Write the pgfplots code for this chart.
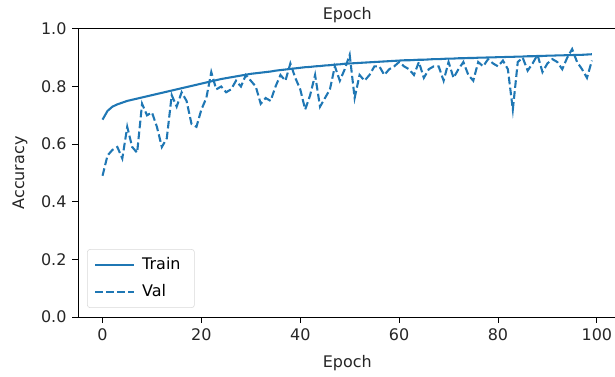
\documentclass[border=0pt]{standalone}
\usepackage{fontspec}
\setmainfont{DejaVu Sans}
\usepackage{pgfplots}
\pgfplotsset{compat=1.18}
\usepackage{pgfplotstable}
\definecolor{mplblue}{HTML}{1F77B4}

\pgfplotstableread{
ep train val
0 0.685 0.49
1 0.715 0.56
2 0.730 0.58
3 0.738 0.59
4 0.744 0.55
5 0.750 0.66
6 0.754 0.59
7 0.758 0.57
8 0.762 0.74
9 0.766 0.70
10 0.770 0.71
11 0.774 0.66
12 0.778 0.59
13 0.782 0.62
14 0.786 0.77
15 0.790 0.73
16 0.794 0.78
17 0.798 0.75
18 0.802 0.67
19 0.806 0.66
20 0.810 0.72
21 0.814 0.76
22 0.818 0.85
23 0.822 0.79
24 0.826 0.80
25 0.829 0.78
26 0.832 0.79
27 0.835 0.82
28 0.838 0.80
29 0.841 0.84
30 0.844 0.82
31 0.846 0.80
32 0.848 0.74
33 0.850 0.76
34 0.852 0.75
35 0.855 0.80
36 0.857 0.84
37 0.859 0.82
38 0.861 0.88
39 0.863 0.83
40 0.865 0.79
41 0.867 0.72
42 0.868 0.77
43 0.870 0.84
44 0.871 0.73
45 0.873 0.76
46 0.874 0.79
47 0.876 0.87
48 0.877 0.82
49 0.879 0.86
50 0.880 0.91
51 0.881 0.76
52 0.882 0.84
53 0.883 0.82
54 0.884 0.84
55 0.885 0.87
56 0.886 0.87
57 0.887 0.84
58 0.888 0.86
59 0.889 0.87
60 0.890 0.885
61 0.891 0.87
62 0.891 0.86
63 0.892 0.84
64 0.893 0.885
65 0.893 0.83
66 0.894 0.86
67 0.895 0.87
68 0.895 0.87
69 0.896 0.82
70 0.897 0.885
71 0.897 0.83
72 0.898 0.86
73 0.898 0.885
74 0.899 0.84
75 0.899 0.82
76 0.900 0.885
77 0.900 0.87
78 0.901 0.895
79 0.901 0.88
80 0.902 0.87
81 0.902 0.89
82 0.903 0.86
83 0.903 0.72
84 0.904 0.885
85 0.904 0.90
86 0.905 0.855
87 0.905 0.88
88 0.906 0.91
89 0.906 0.85
90 0.907 0.88
91 0.907 0.895
92 0.908 0.885
93 0.908 0.86
94 0.909 0.90
95 0.909 0.93
96 0.910 0.885
97 0.910 0.86
98 0.911 0.83
99 0.912 0.89
}\datatable

\begin{document}
\fontsize{11.5}{13.5}\selectfont
\begin{tikzpicture}
\path[use as bounding box] (-56.2pt,-43.2pt) rectangle (386.6pt,228.2pt);
\begin{axis}[
  at={(0pt,0pt)}, anchor=south west,
  scale only axis,
  width=387.6pt, height=207.4pt,
  xmin=-4.95, xmax=103.95,
  ymin=0, ymax=1,
  xtick={0,20,40,60,80,100},
  ytick={0,0.2,0.4,0.6,0.8,1.0},
  yticklabel style={/pgf/number format/.cd, fixed, fixed zerofill, precision=1},
  /pgf/number format/assume math mode=true,
  tick align=outside,
  major tick length=4.3pt,
  tick style={black, line width=0.6pt},
  xtick pos=bottom, ytick pos=left,
  axis line style={line width=0.6pt},
  tick label style={font=\fontsize{11.5}{13.5}\selectfont, text=black!85},
  label style={font=\fontsize{11.5}{13.5}\selectfont, text=black!85},
  title style={font=\fontsize{11.5}{13.5}\selectfont, text=black!85, anchor=base, yshift=1pt},
  title={Epoch},
  xlabel={Epoch},
  ylabel={Accuracy},
  xlabel style={yshift=-3pt},
  ylabel style={yshift=2pt},
  legend cell align=left,
  legend style={at={(0,0)}, anchor=south west, xshift=6.5pt, yshift=6.5pt,
    draw=black!15, rounded corners=2pt, fill=white, fill opacity=0.8, text opacity=1,
    font=\fontsize{11.5}{13.5}\selectfont, row sep=5pt, inner xsep=5pt, inner ysep=4pt,
    nodes={inner xsep=5pt}},
  legend image code/.code={\draw[#1] (0pt,0pt) -- (28pt,0pt);},
]
\addplot[mplblue, line width=1.5pt] table[x=ep, y=train] {\datatable};
\addlegendentry{Train}
\addplot[mplblue, line width=1.5pt, dash pattern=on 5.5pt off 2.4pt] table[x=ep, y=val] {\datatable};
\addlegendentry{Val}
\end{axis}
\end{tikzpicture}
\end{document}
